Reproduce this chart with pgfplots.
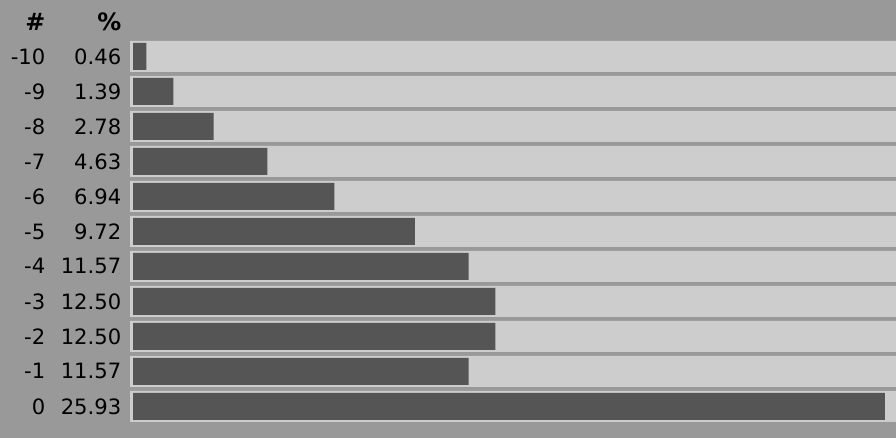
\documentclass[border=0pt]{standalone}
\usepackage{fontspec}
\setmainfont{DejaVu Sans}
\usepackage{pgfplots}
\usepackage{pgfplotstable}
\pgfplotsset{compat=1.18}
\definecolor{bg}{HTML}{999999}
\definecolor{track}{HTML}{CDCDCD}
\definecolor{bar}{HTML}{555555}
\pgfplotstableread{
k num pct
1 -10 0.46
2 -9 1.39
3 -8 2.78
4 -7 4.63
5 -6 6.94
6 -5 9.72
7 -4 11.57
8 -3 12.50
9 -2 12.50
10 -1 11.57
11 0 25.93
}\data
\newcommand{\rowlab}[2]{\makebox[121bp][r]{\makebox[44.5bp][r]{#1}\makebox[76bp][r]{#2}}}
\newcommand{\hd}[1]{{\fontsize{24}{26}\selectfont\bfseries #1}}
\begin{document}
\begin{tikzpicture}
\pgfplotsset{common/.style={
  at={(0,0)}, anchor=south west, scale only axis,
  width=896bp, height=438bp,
  ymin=-0.6142857, ymax=11.9, y dir=reverse,
  axis line style={draw=none}, major tick length=0pt,
  xtick=\empty, clip=false,
}}
\begin{axis}[common,
  xmin=-130, xmax=766,
  axis background/.style={fill=bg},
  ytick={0,...,11},
  yticklabels={\rowlab{\hd{\#}}{\hd{\%}},
    \rowlab{-10}{0.46},\rowlab{-9}{1.39},\rowlab{-8}{2.78},\rowlab{-7}{4.63},
    \rowlab{-6}{6.94},\rowlab{-5}{9.72},\rowlab{-4}{11.57},\rowlab{-3}{12.50},
    \rowlab{-2}{12.50},\rowlab{-1}{11.57},\rowlab{0}{25.93}},
  yticklabel style={anchor=west, inner sep=0pt, font=\fontsize{21.2}{24}\selectfont},
]
\addplot[xbar, bar shift=0pt, bar width=31bp, fill=track, draw=none] table[x expr=766, y=k]{\data};
\end{axis}
\begin{axis}[common,
  xmin=-4.5862069, xmax=26.3103448,
  ytick=\empty,
]
\addplot[xbar, bar shift=0pt, bar width=27bp, fill=bar, draw=none] table[x=pct, y=k]{\data};
\end{axis}
\end{tikzpicture}
\end{document}
